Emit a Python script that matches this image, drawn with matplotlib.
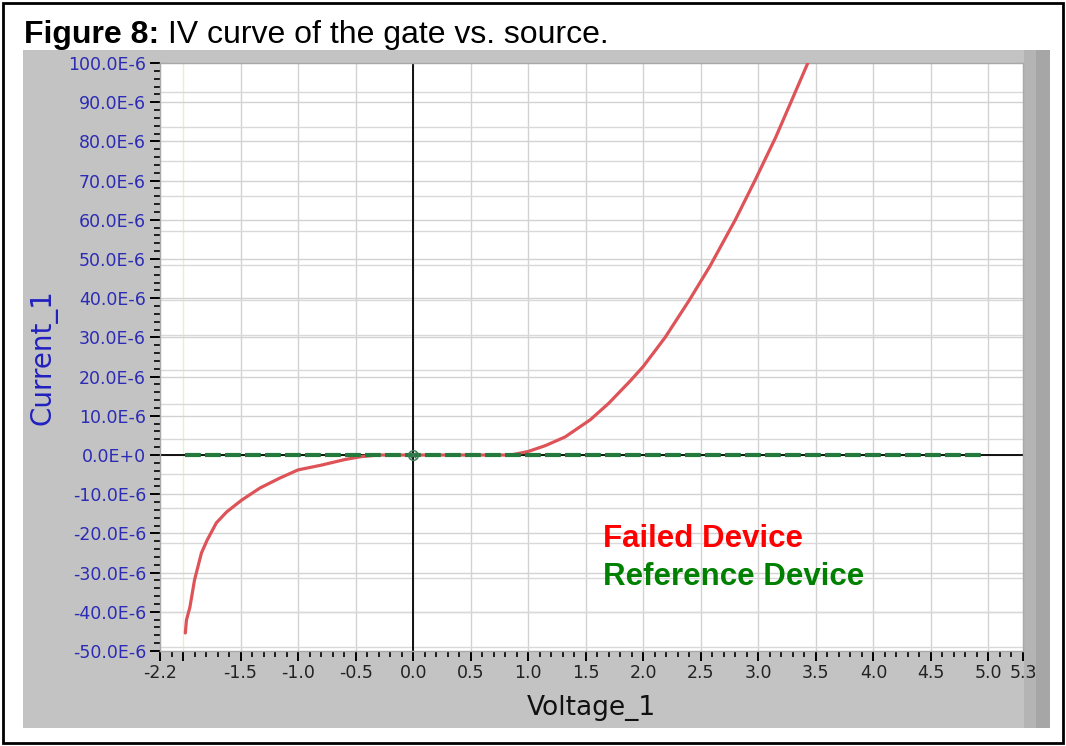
import numpy as np
import matplotlib
matplotlib.use("Agg")
import matplotlib.pyplot as plt
from matplotlib.patches import Rectangle
from matplotlib.ticker import FixedLocator, MultipleLocator, AutoMinorLocator, FuncFormatter

# failed device (V, uA)
v_failed = [-1.98, -1.97, -1.94, -1.90, -1.84, -1.79, -1.71, -1.62, -1.49, -1.33,
            -1.16, -1.00, -0.80, -0.60, -0.45, -0.30, 0.0, 0.5, 0.85, 1.0,
            1.15, 1.32, 1.54, 1.70, 1.89, 2.0, 2.19, 2.4, 2.58, 2.8,
            2.97, 3.15, 3.28, 3.43]
i_failed_ua = [-45.4, -42.1, -38.8, -31.9, -25.0, -21.7, -17.3, -14.5, -11.5, -8.4,
               -5.9, -3.8, -2.6, -1.2, -0.4, 0.0, 0.0, 0.0, 0.0, 0.9,
               2.4, 4.6, 9.0, 13.2, 19.0, 22.6, 30.0, 39.5, 48.2, 60.0,
               70.0, 81.0, 89.8, 100.0]

# reference device is flat at zero
v_ref = [-1.98, 4.95]
i_ref_ua = [0.0, 0.0]

x_tick_vals = [-2.2, -2.0, -1.5, -1.0, -0.5, 0.0, 0.5, 1.0, 1.5, 2.0, 2.5, 3.0, 3.5, 4.0, 4.5, 5.0, 5.3]
x_tick_labels = ["-2.2", "", "-1.5", "-1.0", "-0.5", "0.0", "0.5", "1.0", "1.5", "2.0",
                 "2.5", "3.0", "3.5", "4.0", "4.5", "5.0", "5.3"]

W, H = 1066, 746


def fx(px):
    return px / W


def fy(py):
    return 1 - py / H


def y_fmt(v, pos):
    u = v * 1e6
    if abs(u) < 1e-9:
        return "0.0E+0"
    return f"{u:.1f}E-6"


def panel(fig, x0, x1, color):
    fig.patches.append(Rectangle((fx(x0), fy(728)), fx(x1) - fx(x0), fy(50) - fy(728),
                                 transform=fig.transFigure, facecolor=color,
                                 edgecolor="none", zorder=-2))


def main():
    fig = plt.figure(figsize=(W / 100, H / 100), dpi=100)
    fig.patch.set_facecolor("white")

    # gray instrument panel
    panel(fig, 23, 1050, "#c3c3c3")
    panel(fig, 1024, 1050, "#b4b4b4")
    panel(fig, 1036, 1050, "#a6a6a6")
    fig.patches.append(Rectangle((fx(3), fy(743)), fx(1063) - fx(3), fy(3) - fy(743),
                                 transform=fig.transFigure, facecolor="none", edgecolor="black",
                                 linewidth=2, zorder=5))

    t = fig.text(fx(24), fy(50), "Figure 8:", fontsize=23, fontweight="bold",
                 family="Liberation Sans", va="bottom", ha="left")

    ax = fig.add_axes([fx(160), fy(651), fx(1023) - fx(160), fy(63) - fy(651)])
    ax.annotate(" IV curve of the gate vs. source.", xy=(1, 0), xycoords=t,
                fontsize=23, family="Liberation Sans", va="bottom", ha="left",
                annotation_clip=False)
    ax.set_facecolor("white")
    ax.set_xlim(-2.2, 5.3)
    ax.set_ylim(-50e-6, 100e-6)

    # grid
    for xv in np.arange(-1.5, 5.01, 0.5):
        ax.axvline(xv, color="#d2d2d2", lw=1.0, zorder=1)
    ax.axvline(-2.0, color="#efeccc", lw=1.0, zorder=1)
    for yv in np.arange(-40e-6, 95e-6, 10e-6):
        ax.axhline(yv, color="#d2d2d2", lw=1.0, zorder=1)
    for yv in np.arange(92.6e-6, -50e-6, -8.85e-6):
        ax.axhline(yv, color="#d9d9d9", lw=1.0, zorder=1)

    ax.axhline(0, color="black", lw=1.3, zorder=2)
    ax.axvline(0, color="black", lw=1.3, zorder=2)

    i_failed = np.array(i_failed_ua) * 1e-6
    i_ref = np.array(i_ref_ua) * 1e-6
    ax.plot(v_failed, i_failed, color="#dd5358", lw=2.3, zorder=3,
            solid_capstyle="round", solid_joinstyle="round")
    ax.plot(v_ref, i_ref, color="#237a3c", lw=3.0, ls=(0, (3.8, 1.0)), zorder=4)
    ax.plot([0], [0], marker="o", ms=7, mfc="none", mec="#3b7a55", mew=1.0, zorder=5)
    ax.plot([0], [0], marker="x", ms=5, mec="#3b7a55", mew=1.0, zorder=5)

    # ticks
    ax.xaxis.set_major_locator(FixedLocator(x_tick_vals))
    ax.set_xticklabels(x_tick_labels)
    ax.xaxis.set_minor_locator(MultipleLocator(0.1))
    ax.yaxis.set_major_locator(MultipleLocator(10e-6))
    ax.yaxis.set_minor_locator(AutoMinorLocator(5))
    ax.yaxis.set_major_formatter(FuncFormatter(y_fmt))
    ax.tick_params(axis="both", which="major", direction="out", length=7, width=1.4, color="black")
    ax.tick_params(axis="both", which="minor", direction="out", length=4, width=1.2, color="black")
    ax.tick_params(axis="y", which="major", labelsize=12.5, labelcolor="#2b2bb5", pad=3)
    ax.tick_params(axis="x", which="major", labelsize=12.5, labelcolor="#222222", pad=2)
    for lab in ax.get_xticklabels() + ax.get_yticklabels():
        lab.set_family("DejaVu Sans")

    for s in ax.spines.values():
        s.set_color("#a8a8a8")
        s.set_linewidth(1.0)

    ax.set_xlabel("Voltage_1", fontsize=19, color="#111111", family="DejaVu Sans", labelpad=10)
    ax.set_ylabel("Current_1", fontsize=20, color="#2020c0", family="DejaVu Sans", labelpad=8)

    ax.text(0.513, 0.177, "Failed Device", transform=ax.transAxes, fontsize=22.5,
            fontweight="bold", family="Liberation Sans", color="#ff0000", va="baseline", zorder=6)
    ax.text(0.513, 0.112, "Reference Device", transform=ax.transAxes, fontsize=22.5,
            fontweight="bold", family="Liberation Sans", color="#008000", va="baseline", zorder=6)

    fig.savefig("out.png", dpi=100)
    plt.close(fig)


if __name__ == "__main__":
    main()
